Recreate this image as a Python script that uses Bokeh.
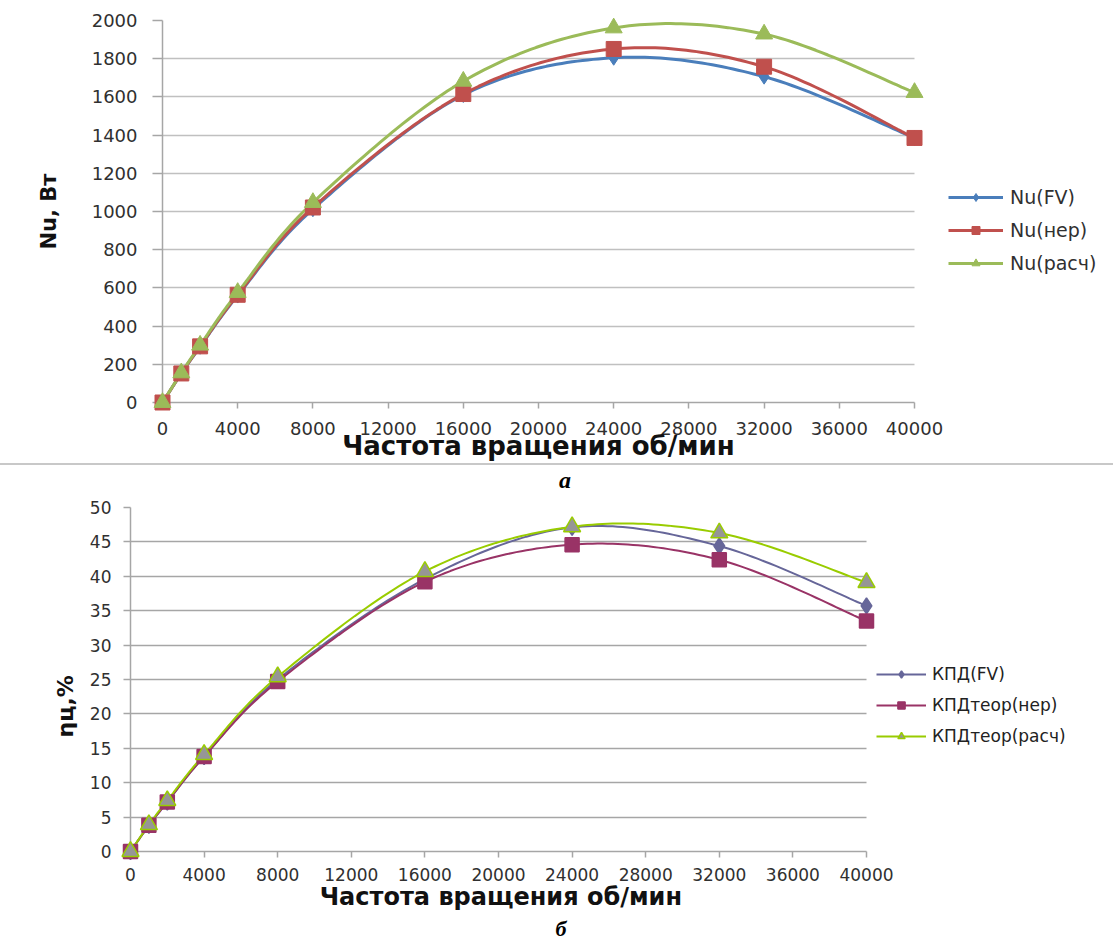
import numpy as np
from bokeh.plotting import figure
from bokeh.models import Legend, LegendItem, Div, FixedTicker, Range1d, Title
from bokeh.embed import file_html
from bokeh.resources import INLINE

# ---------------- data ----------------
rpm = [0, 1000, 2000, 4000, 8000, 16000, 24000, 32000, 40000]

nu_fv = [0, 152, 292, 560, 1012, 1610, 1805, 1706, 1385]
nu_ner = [0, 152, 294, 564, 1021, 1615, 1851, 1758, 1385]
nu_rasch = [0, 155, 300, 576, 1047, 1682, 1961, 1929, 1623]

kpd_fv = [0, 3.8, 7.2, 13.8, 25.0, 39.6, 47.1, 44.4, 35.7]
kpd_ner = [0, 3.8, 7.2, 13.8, 24.7, 39.2, 44.6, 42.4, 33.5]
kpd_rasch = [0, 3.9, 7.4, 14.1, 25.4, 40.7, 47.2, 46.3, 39.1]

x_ticks = [0, 4000, 8000, 12000, 16000, 20000, 24000, 28000, 32000, 36000, 40000]
nu_ticks = list(range(0, 2001, 200))
kpd_ticks = list(range(0, 51, 5))

top_names = ["Nu(FV)", "Nu(нер)", "Nu(расч)"]
bot_names = ["КПД(FV)", "КПДтеор(нер)", "КПДтеор(расч)"]
x_title = "Частота вращения об/мин"
top_ytitle = "Nu, Вт"
bot_ytitle = "ηц,%"
label_a = "а"
label_b = "б"

X_MAX = 40000
NBSP = "\u00a0"


def smooth(xs, ys, n=30):
    """Excel-like smoothed line (Catmull-Rom Bezier) through the data points."""
    P = np.column_stack([xs, ys]).astype(float)
    ox, oy = [], []
    t = np.linspace(0, 1, n)[:, None]
    for i in range(len(P) - 1):
        p0 = P[i - 1] if i > 0 else P[i]
        p1, p2 = P[i], P[i + 1]
        p3 = P[i + 2] if i + 2 < len(P) else P[i + 1]
        c1 = p1 + (p2 - p0) / 6.0
        c2 = p2 - (p3 - p1) / 6.0
        b = ((1 - t) ** 3) * p1 + 3 * ((1 - t) ** 2) * t * c1 + 3 * (1 - t) * t ** 2 * c2 + t ** 3 * p2
        if i > 0:
            b = b[1:]
        ox.extend(b[:, 0]); oy.extend(b[:, 1])
    return ox, oy


FONT = "DejaVu Sans"
W = 1113


def base_fig(height, ymax, yticks, frame_left, x_at_max, bt, bb, tick_font, grid_col,
             ytick_out, ystand, xtick_stand, xlab_size, xlab_standoff, ylab_size, ylab_standoff):
    # frame runs from frame_left to the right edge; 40000 sits at pixel x_at_max
    x_end = X_MAX * (W - frame_left) / (x_at_max - frame_left)
    p = figure(width=W, height=height, output_backend="svg", toolbar_location=None,
               x_range=Range1d(0, x_end), y_range=Range1d(0, ymax),
               min_border_left=frame_left, min_border_right=0,
               min_border_top=bt, min_border_bottom=bb)
    p.outline_line_color = None
    p.xgrid.grid_line_color = None
    try:
        p.ygrid[0].cross_bounds = (0, X_MAX)
        p.ygrid.grid_line_color = grid_col
        p.ygrid.grid_line_width = 1.5
    except Exception:
        p.ygrid.grid_line_color = None
        p.segment(x0=[0] * len(yticks), x1=[X_MAX] * len(yticks), y0=yticks, y1=yticks,
                  line_color=grid_col, line_width=1.5, level="underlay")
    p.xaxis.ticker = FixedTicker(ticks=x_ticks)
    p.yaxis.ticker = FixedTicker(ticks=yticks)
    p.xaxis.bounds = (0, X_MAX)
    for ax in (p.xaxis[0], p.yaxis[0]):
        ax.axis_line_color = "#a6a6a6"
        ax.axis_line_width = 1.5
        ax.major_tick_line_color = "#a6a6a6"
        ax.major_tick_line_width = 1.5
        ax.minor_tick_line_color = None
        ax.major_tick_in = 0
        ax.major_label_text_font = FONT
        ax.major_label_text_font_size = tick_font
        ax.major_label_text_color = "#303030"
        ax.axis_label_text_font = FONT
        ax.axis_label_text_font_style = "bold"
        ax.axis_label_text_color = "#111111"
    p.xaxis.major_tick_out = 6
    p.xaxis.major_label_standoff = xtick_stand
    p.xaxis.axis_label_text_font_size = xlab_size
    p.xaxis.axis_label_standoff = xlab_standoff
    p.yaxis.major_tick_out = ytick_out
    p.yaxis.major_label_standoff = ystand
    p.yaxis.axis_label_text_font_size = ylab_size
    p.yaxis.axis_label_standoff = ylab_standoff
    return p


# ---------------- top chart ----------------
p1 = base_fig(463, 2000, nu_ticks, 162, 914, 20, 59, "18px", "#c0c0c0", 10, 15, 13,
              "26px", -7, "21px", 28)
# trailing no-break spaces move the centred title left, under the plotted range
p1.xaxis.axis_label = x_title + NBSP * 22
p1.yaxis.axis_label = top_ytitle

top_cols = ["#4A7EBB", "#C0504D", "#9BBB59"]
top_marks = [("diamond", 15), ("square", 15), ("triangle", 17)]
items = []
for ys, col, (mk, sz), name in zip([nu_fv, nu_ner, nu_rasch], top_cols, top_marks, top_names):
    sx, sy = smooth(rpm, ys)
    lr = p1.line(sx, sy, line_color=col, line_width=3)
    mr = p1.scatter(rpm, ys, marker=mk, size=sz, fill_color=col, line_color=col, level="overlay")
    items.append(LegendItem(label=name, renderers=[lr, mr]))

leg1 = Legend(items=items, location=(786, 128), padding=0, margin=0, spacing=11,
              glyph_height=20, glyph_width=55, label_height=20, label_standoff=7,
              label_text_font=FONT, label_text_font_size="19px", label_text_color="#303030",
              background_fill_alpha=0, border_line_color=None)
p1.add_layout(leg1, "center")

# separator line and the caption "а"
sep = Div(width=W, height=30, margin=0, text=(
    '<div style="position:relative;width:%dpx;height:30px;">'
    '<div style="position:absolute;left:0;top:0;width:%dpx;height:2px;background:#c8c8c8;"></div>'
    '<div style="position:absolute;left:535px;top:4px;width:60px;text-align:center;'
    "font-family:'Liberation Serif';font-style:italic;font-weight:bold;font-size:24px;"
    'line-height:26px;color:#000;">%s</div></div>') % (W, W, label_a))

# ---------------- bottom chart ----------------
p2 = base_fig(448, 50, kpd_ticks, 130, 866, 14, 90, "17px", "#a6a6a6", 7, 12, 10,
              "24px", -1, "22px", 9)
p2.xaxis.axis_label = x_title + NBSP * 29
p2.yaxis.axis_label = bot_ytitle + NBSP * 7

bot_cols = ["#666699", "#993366", "#99CC00"]
bot_fill = ["#666699", "#993366", "#969696"]
bot_marks = [("diamond", 16), ("square", 14), ("triangle", 17)]
items2 = []
for ys, col, fc, (mk, sz), name in zip([kpd_fv, kpd_ner, kpd_rasch], bot_cols, bot_fill, bot_marks, bot_names):
    sx, sy = smooth(rpm, ys)
    lr = p2.line(sx, sy, line_color=col, line_width=2)
    mr = p2.scatter(rpm, ys, marker=mk, size=sz, fill_color=fc, line_color=col,
                    line_width=1.5, level="overlay")
    items2.append(LegendItem(label=name, renderers=[lr, mr]))

leg2 = Legend(items=items2, location=(746, 105), padding=0, margin=0, spacing=11,
              glyph_height=18, glyph_width=50, label_height=18, label_standoff=6,
              label_text_font=FONT, label_text_font_size="17px", label_text_color="#222222",
              background_fill_alpha=0, border_line_color=None)
p2.add_layout(leg2, "center")

p2.add_layout(Title(text=label_b, align="left", offset=425, text_font="Liberation Serif",
                    text_font_style="bold italic", text_font_size="22px",
                    text_color="#000000", standoff=0), "below")

open("out.html", "w").write(file_html([p1, sep, p2], INLINE))
